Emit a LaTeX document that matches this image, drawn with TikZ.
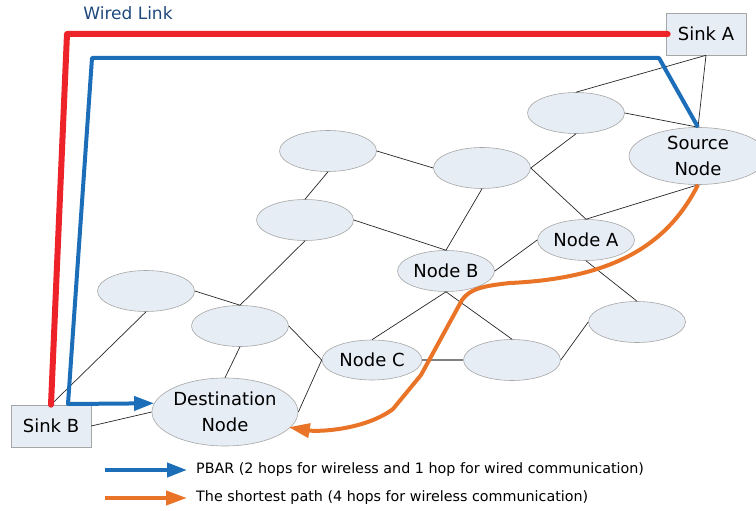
\documentclass[tikz,border=0pt]{standalone}
\usepackage{fontspec}
\setmainfont{DejaVu Sans}
\usetikzlibrary{shapes.geometric,arrows.meta}
\definecolor{nodefill}{HTML}{E7EDF5}
\definecolor{nodeline}{HTML}{A6A6A6}
\definecolor{wred}{HTML}{EE2229}
\definecolor{pblue}{HTML}{1B6EB7}
\definecolor{sorange}{HTML}{E97326}
\definecolor{titleblue}{HTML}{1F497D}
\tikzset{
  ell/.style={ellipse, draw=nodeline, fill=nodefill, line width=0.6pt, inner sep=0pt,
    minimum width=97pt, minimum height=41pt, font=\fontsize{18}{26}\selectfont, align=center},
  sink/.style={rectangle, draw=nodeline, fill=nodefill, line width=0.6pt, inner sep=0pt,
    minimum width=80pt, minimum height=42pt, font=\fontsize{18}{22}\selectfont},
  edge/.style={draw=black!85, line width=0.7pt},
  grayedge/.style={draw=black!50, line width=1.6pt},
  wired/.style={draw=wred, line width=6pt, line cap=round, line join=round},
  pbar/.style={draw=pblue, line width=4pt, line join=round, -{Triangle[length=20pt,width=14pt]}},
  spath/.style={draw=sorange, line width=4pt, line join=round, -{Triangle[length=21pt,width=14pt]}},
  legtext/.style={anchor=west, inner sep=0pt, font=\fontsize{14.3}{18}\selectfont},
}
\begin{document}
\begin{tikzpicture}[x=1pt,y=-1pt]
\useasboundingbox (0,0) rectangle (756,511);
% nodes
\node[sink] (SinkA) at (706,34) {Sink A};
\node[sink] (SinkB) at (51,426) {Sink B};
\node[ell] (E1) at (328,151) {};
\node[ell] (E2) at (305,220) {};
\node[ell] (E3) at (576,113) {};
\node[ell] (E4) at (482,168) {};
\node[ell, minimum width=138pt, minimum height=57pt] (Src) at (698,156) {Source\\Node};
\node[ell] (NA) at (586,240) {Node A};
\node[ell] (NB) at (446,271) {Node B};
\node[ell] (E5) at (146,291) {};
\node[ell] (E6) at (240,326) {};
\node[ell, minimum width=141pt, minimum height=68pt] (Dst) at (225,412) {Destination\\Node};
\node[ell, minimum width=100pt, minimum height=40pt] (NC) at (372,360) {Node C};
\node[ell] (E7) at (512,360) {};
\node[ell] (E8) at (637,322) {};
% thin wireless links
\draw[edge] (SinkA.south) -- (E3.north);
\draw[edge] (SinkA.south) -- (Src.north);
\draw[edge] (E3.east) -- (Src.north);
\draw[edge] (E3.south) -- (E4.east);
\draw[edge] (E1.east) -- (E4.west);
\draw[edge] (E1.south) -- (E2.north);
\draw[edge] (E4.east) -- (NA.north);
\draw[edge] (E4.south) -- (NB.north);
\draw[edge] (Src.south) -- (NA.north);
\draw[edge] (NA.west) -- (NB.east);
\draw[edge] (NA.south) -- (E8.north);
\draw[edge] (E2.east) -- (NB.north);
\draw[edge] (E2.south) -- (E6.north);
\draw[edge] (E5.east) -- (E6.north);
\draw[edge] (E5.south) -- (SinkB.north);
\draw[edge] (E6.south) -- (Dst.north);
\draw[edge] (E6.east) -- (NC.west);
\draw[edge] (NC.west) -- (Dst.east);
\draw[edge] (SinkB.east) -- (Dst.west);
\draw[edge] (NB.south) -- (NC.north);
\draw[edge] (NB.south) -- (E7.north);
\draw[grayedge] (NC.east) -- (E7.west);
\draw[edge] (E7.east) -- (E8.west);
% wired link
\node[text=titleblue, font=\fontsize{17}{20}\selectfont] (WL) at (128,13) {Wired Link};
\coordinate (rc) at (67,34);
\draw[wired] (SinkB.north) -- (rc) -- ([xshift=2pt]SinkA.west);
% PBAR path
\coordinate (b1) at (659,58);
\coordinate (b2) at (92,58);
\coordinate (b3) at (68,404);
\draw[pbar] (Src.north) -- (b1) -- (b2) -- (b3) -- (Dst.173);
% shortest path
\coordinate (o1) at (510,283);
\coordinate (o2) at (462,300);
\coordinate (o3) at (421,375);
\coordinate (o4) at (393,409);
\draw[spath] (Src.south) .. controls (670,240) and (620,278) .. (o1)
  .. controls (482,286) and (470,289) .. (o2) -- (o3) -- (o4)
  .. controls (365,430) and (318,432) .. ([xshift=-2pt]Dst.347);
% legend
\node[legtext] (L1) at (196,470) {PBAR (2 hops for wireless and 1 hop for wired communication)};
\node[legtext] (L2) at (196,498) {The shortest path (4 hops for wireless communication)};
\coordinate (l1s) at (105,470);
\coordinate (l2s) at (105,498);
\draw[pbar] (l1s) -- ([xshift=-9pt]L1.west);
\draw[spath] (l2s) -- ([xshift=-9pt]L2.west);
\end{tikzpicture}
\end{document}
